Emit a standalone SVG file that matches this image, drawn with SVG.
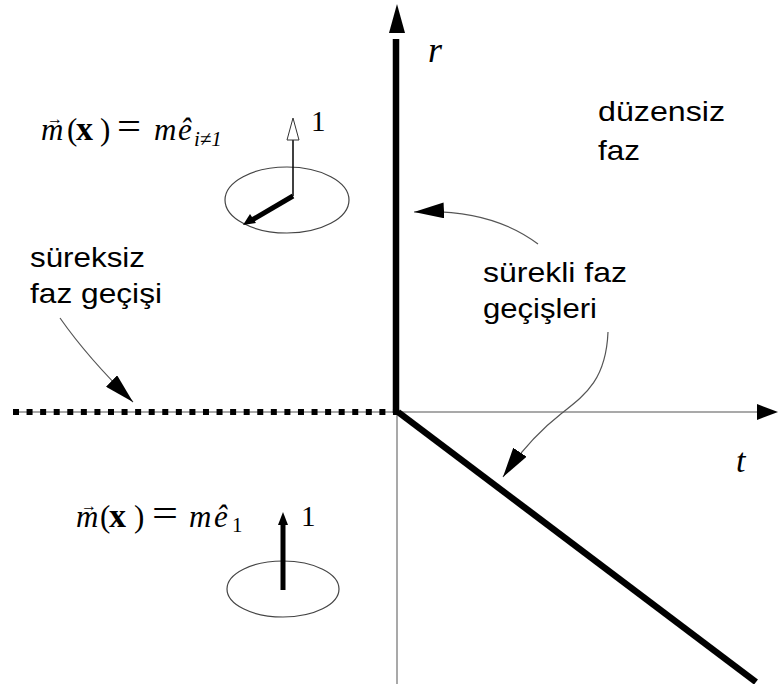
<svg xmlns="http://www.w3.org/2000/svg" width="778" height="684" viewBox="0 0 778 684">
<style>
.sans{font-family:"Liberation Sans",Arial,sans-serif;font-size:28px;fill:#000}
.math{font-family:"Liberation Serif","DejaVu Serif",serif;fill:#000}
.it{font-style:italic}
.bf{font-weight:bold}
.axis{stroke:#8c8c8c;stroke-width:1.5;fill:none}
.thick{stroke:#000;stroke-width:6.5;fill:none}
.curve{stroke:#555;stroke-width:1.2;fill:none}
.ell{fill:none;stroke:#444;stroke-width:1.2}
</style>
<defs>
<marker id="head" markerUnits="userSpaceOnUse" viewBox="0 0 30 16" refX="30" refY="8" markerWidth="30" markerHeight="16" orient="auto">
<path d="M0,0 L30,8 L0,16 z" fill="#000"/>
</marker>
</defs>
<rect width="778" height="684" fill="#fff"/>
<g id="axes">
<line class="axis" x1="13" y1="412" x2="760" y2="412"/>
<polygon points="757,404 778,412 757,420" fill="#000"/>
<line class="axis" x1="397" y1="412" x2="397" y2="684"/>
<polygon points="397,4 405,33 389,33" fill="#000"/>
<text class="math it" x="428" y="62" style="font-size:36px">r</text>
<text class="math it" x="736" y="472" style="font-size:34px">t</text>
</g>
<g id="phase-lines">
<line class="thick" x1="396" y1="39" x2="396" y2="413"/>
<line x1="13" y1="412" x2="398" y2="412" stroke="#000" stroke-width="6" stroke-dasharray="6 7.57"/>
<line class="thick" x1="398" y1="412" x2="756" y2="682" stroke-width="7"/>
</g>
<g id="ordered-state-upper">
<text class="math" y="140" style="font-size:31px"><tspan class="it" x="41">m</tspan><tspan x="47" y="124" style="font-size:16px">→</tspan><tspan x="67" y="140">(</tspan><tspan class="bf" x="76" style="font-size:34px">x</tspan><tspan x="100">)</tspan><tspan x="117" style="font-size:40px" textLength="24" lengthAdjust="spacingAndGlyphs">=</tspan><tspan class="it" x="154">m</tspan><tspan class="it" x="178">ê</tspan><tspan class="it" x="194" y="146" style="font-size:21px">i≠1</tspan></text>
<ellipse class="ell" cx="287" cy="200" rx="62" ry="33"/>
<line x1="293" y1="140" x2="293" y2="196" stroke="#000" stroke-width="1.5"/>
<polygon points="293,118 299,140 287,140" fill="#fff" stroke="#333" stroke-width="1"/>
<line x1="293" y1="196" x2="252" y2="220" stroke="#000" stroke-width="5"/>
<polygon points="243,225 256,223 250,214" fill="#000"/>
<text class="math" x="311" y="131" style="font-size:29px">1</text>
</g>
<g id="ordered-state-lower">
<text class="math" y="527" style="font-size:31px"><tspan class="it" x="76">m</tspan><tspan x="81" y="511" style="font-size:16px">→</tspan><tspan x="100" y="527">(</tspan><tspan class="bf" x="109" style="font-size:34px">x</tspan><tspan x="134">)</tspan><tspan x="152" style="font-size:40px" textLength="26" lengthAdjust="spacingAndGlyphs">=</tspan><tspan class="it" x="189">m</tspan><tspan class="it" x="214">ê</tspan><tspan x="232" y="532" style="font-size:21px">1</tspan></text>
<ellipse class="ell" cx="283" cy="589" rx="56" ry="28"/>
<line x1="283" y1="590" x2="283" y2="522" stroke="#000" stroke-width="5"/>
<polygon points="283,512 288,525 278,525" fill="#000"/>
<text class="math" x="301" y="526" style="font-size:29px">1</text>
</g>
<g id="labels">
<text class="sans" x="598" y="121" textLength="127" lengthAdjust="spacingAndGlyphs">düzensiz</text>
<text class="sans" x="598" y="160" textLength="42" lengthAdjust="spacingAndGlyphs">faz</text>
<text class="sans" x="30" y="267" textLength="115" lengthAdjust="spacingAndGlyphs">süreksiz</text>
<text class="sans" x="30" y="303" textLength="132" lengthAdjust="spacingAndGlyphs">faz geçişi</text>
<text class="sans" x="483" y="282" textLength="144" lengthAdjust="spacingAndGlyphs">sürekli faz</text>
<text class="sans" x="483" y="318" textLength="114" lengthAdjust="spacingAndGlyphs">geçişleri</text>
</g>
<g id="connectors">
<path class="curve" d="M60,318 Q88,358 133,402" marker-end="url(#head)"/>
<path class="curve" d="M538,244 Q490,208 414,212" marker-end="url(#head)"/>
<path class="curve" d="M608,332 C606,380 585,395 562,413 S518,455 503,477" marker-end="url(#head)"/>
</g>
</svg>
